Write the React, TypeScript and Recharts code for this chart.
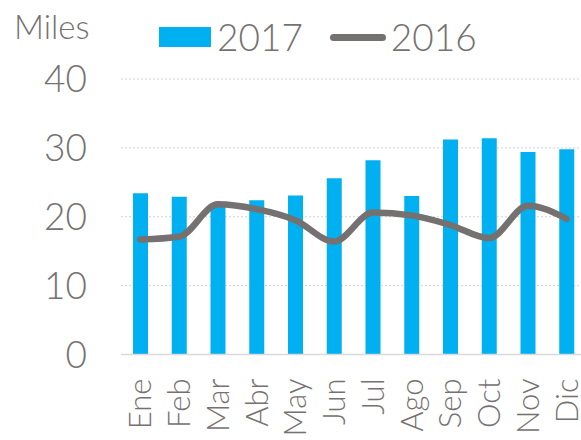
import React from 'react';
import { ComposedChart, Bar, Line, XAxis, YAxis, CartesianGrid } from 'recharts';

const months = ['Ene', 'Feb', 'Mar', 'Abr', 'May', 'Jun', 'Jul', 'Ago', 'Sep', 'Oct', 'Nov', 'Dic'];
const values2017 = [23.4, 22.9, 22.0, 22.4, 23.1, 25.6, 28.2, 23.0, 31.2, 31.4, 29.4, 29.8];
const values2016 = [16.7, 17.1, 21.8, 21.1, 19.5, 16.4, 20.6, 20.2, 18.8, 16.9, 21.6, 19.7];
const yTicks = [0, 10, 20, 30, 40];

const FONT = "Lato, 'Open Sans', sans-serif";
const TEXT = '#767171';
const BLUE = '#00B0F0';
const GRAY = '#767171';

const data = months.map((m, i) => ({ month: m, y2017: values2017[i], y2016: values2016[i] }));

const MonthTick = ({ x, y, payload }: any) => (
  <text
    x={x}
    y={y + 24}
    transform={`rotate(-90 ${x} ${y + 24})`}
    textAnchor="end"
    dy={11}
    fill={TEXT}
    fontSize={31}
    fontFamily={FONT}
    fontWeight={300}
  >
    {payload.value}
  </text>
);

// legend drawn by hand above the plot, like the original
const LegendBox = () => (
  <div
    style={{
      position: 'absolute',
      left: 159,
      top: 12,
      display: 'flex',
      alignItems: 'center',
      fontFamily: FONT,
      fontWeight: 300,
      color: TEXT,
      fontSize: 37,
      lineHeight: '50px',
    }}
  >
    <span style={{ width: 52, height: 20, background: BLUE, display: 'inline-block', marginRight: 6 }} />
    <span>2017</span>
    <span
      style={{
        width: 56,
        height: 7,
        borderRadius: 3.5,
        background: GRAY,
        display: 'inline-block',
        marginLeft: 27,
        marginRight: 5,
      }}
    />
    <span>2016</span>
  </div>
);

const App = () => {
  return (
    <div style={{ position: 'absolute', left: 0, top: 0, width: 581, height: 440, overflow: 'hidden', background: '#fff' }}>
      <ComposedChart width={590} height={440} data={data} margin={{ top: 79, right: 4, left: 0, bottom: 0 }}>
        <CartesianGrid vertical={false} stroke="#d0d0d0" strokeDasharray="2 2" />
        <XAxis
          dataKey="month"
          height={85.5}
          interval={0}
          tickSize={0}
          tickMargin={0}
          axisLine={{ stroke: '#d9d9d9', strokeWidth: 1.5 }}
          tickLine={false}
          tick={<MonthTick />}
        />
        <YAxis
          width={121}
          domain={[0, 40]}
          ticks={yTicks}
          axisLine={false}
          tickLine={false}
          tickSize={0}
          tickMargin={34}
          tick={{ fill: TEXT, fontSize: 37, fontFamily: FONT, fontWeight: 300 }}
        />
        <Bar dataKey="y2017" name="2017" fill={BLUE} barSize={15} isAnimationActive={false} />
        <Line
          dataKey="y2016"
          name="2016"
          type="monotone"
          stroke={GRAY}
          strokeWidth={6.5}
          strokeLinecap="round"
          dot={false}
          activeDot={false}
          isAnimationActive={false}
        />
      </ComposedChart>
      <div style={{ position: 'absolute', left: 14, top: 6, fontFamily: FONT, fontWeight: 300, color: TEXT, fontSize: 33 }}>
        Miles
      </div>
      <LegendBox />
    </div>
  );
};

export default App;
